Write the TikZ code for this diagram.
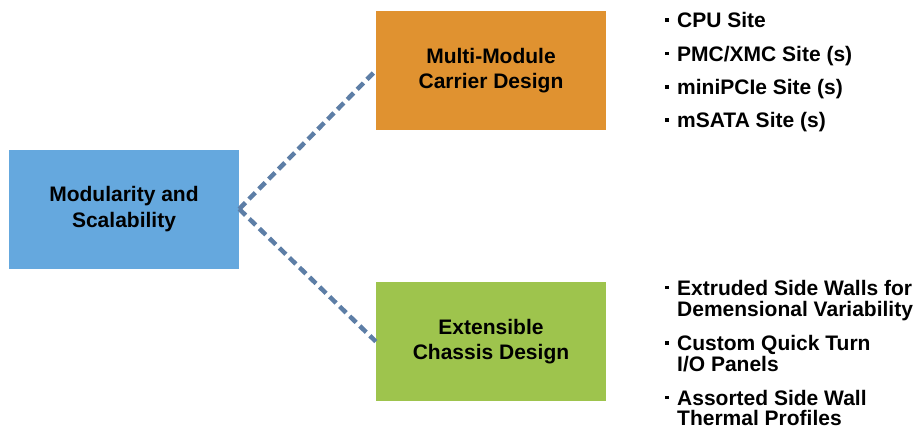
\documentclass[tikz,border=0pt]{standalone}
\usepackage{fontspec}
\setmainfont{Liberation Sans}
\definecolor{cOrange}{RGB}{224,146,48}
\definecolor{cBlue}{RGB}{101,168,222}
\definecolor{cGreen}{RGB}{158,196,77}
\definecolor{cLine}{RGB}{93,126,166}
\begin{document}
\begin{tikzpicture}[x=1pt,y=-1pt,
  box/.style={minimum width=230pt,minimum height=119pt,inner sep=0pt,align=center,
    font=\fontsize{21}{25.5}\selectfont\bfseries},
  link/.style={cLine,line width=4.5pt,dash pattern=on 9pt off 5pt},
  item/.style={anchor=base west,inner sep=0pt,align=left,font=\fontsize{21}{21.5}\selectfont\bfseries},
  bul/.style={fill=black}]
\useasboundingbox (0,0) rectangle (919,429);
\node[box,fill=cOrange] (o) at (491,70.5) {Multi-Module\\Carrier Design};
\node[box,fill=cBlue] (b) at (124,209) {Modularity and\\Scalability};
\node[box,fill=cGreen] (g) at (491,341.5) {Extensible\\Chassis Design};
\draw[link] (b.east) -- (o.west);
\draw[link] (b.east) -- (g.west);
% top list
\node[item] (t1) at (677,27.5) {CPU Site};
\node[item] (t2) at (677,61) {PMC/XMC Site (s)};
\node[item] (t3) at (677,94.5) {miniPCIe Site (s)};
\node[item] (t4) at (677,127.5) {mSATA Site (s)};
% bottom list
\node[item] (u1) at (677,295) {Extruded Side Walls for};
\node[item] (u1b) at (677,316.5) {Demensional Variability};
\node[item] (u2) at (677,350.5) {Custom Quick Turn};
\node[item] (u2b) at (677,371.5) {I/O Panels};
\node[item] (u3) at (677,405) {Assorted Side Wall};
\node[item] (u3b) at (677,425.5) {Thermal Profiles};
\foreach \n in {t1,t2,t3,t4,u1,u2,u3}
  \fill[bul] ([shift={(-12pt,6pt)}]\n.base west) rectangle ++(3.5pt,3.5pt);
\end{tikzpicture}
\end{document}
